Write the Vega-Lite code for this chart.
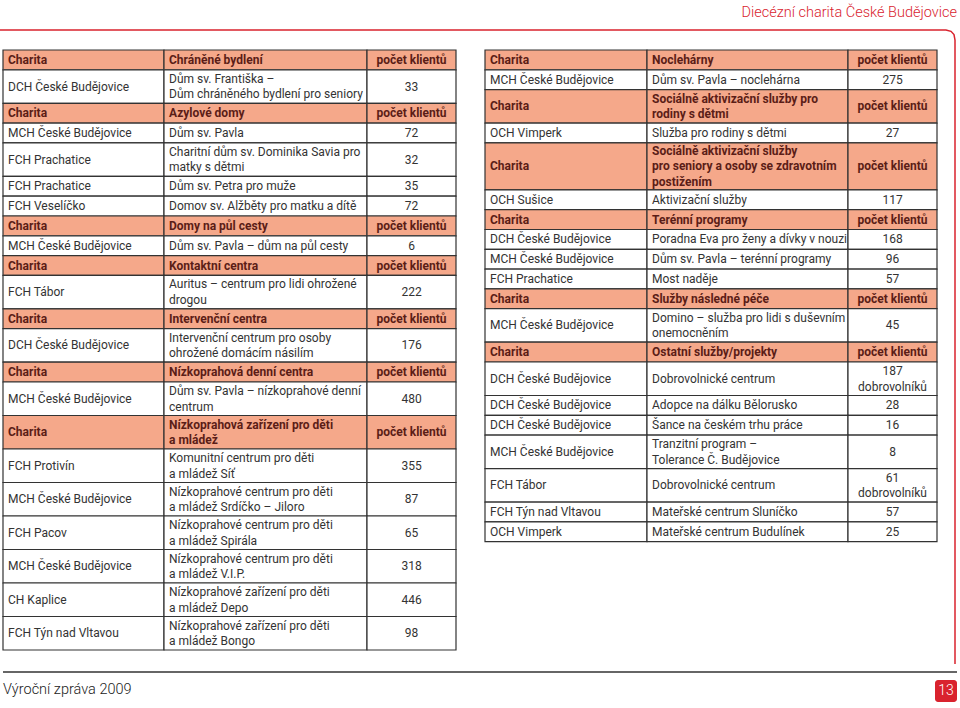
{
  "$schema": "https://vega.github.io/schema/vega-lite/v6.json",
  "width": 960,
  "height": 708,
  "autosize": "none",
  "padding": 0,
  "background": "white",
  "config": {"view": {"stroke": null}, "text": {"font": "Roboto"}},
  "datasets": {
    "rows": [
      {"t": "L", "kind": "h", "a": "Charita", "b": "Chráněné bydlení", "c": "počet klientů"},
      {"t": "L", "kind": "d", "a": "DCH České Budějovice", "b": "Dům sv. Františka –\nDům chráněného bydlení pro seniory", "c": "33"},
      {"t": "L", "kind": "h", "a": "Charita", "b": "Azylové domy", "c": "počet klientů"},
      {"t": "L", "kind": "d", "a": "MCH České Budějovice", "b": "Dům sv. Pavla", "c": "72"},
      {"t": "L", "kind": "d", "a": "FCH Prachatice", "b": "Charitní dům sv. Dominika Savia pro\nmatky s dětmi", "c": "32"},
      {"t": "L", "kind": "d", "a": "FCH Prachatice", "b": "Dům sv. Petra pro muže", "c": "35"},
      {"t": "L", "kind": "d", "a": "FCH Veselíčko", "b": "Domov sv. Alžběty pro matku a dítě", "c": "72"},
      {"t": "L", "kind": "h", "a": "Charita", "b": "Domy na půl cesty", "c": "počet klientů"},
      {"t": "L", "kind": "d", "a": "MCH České Budějovice", "b": "Dům sv. Pavla – dům na půl cesty", "c": "6"},
      {"t": "L", "kind": "h", "a": "Charita", "b": "Kontaktní centra", "c": "počet klientů"},
      {"t": "L", "kind": "d", "a": "FCH Tábor", "b": "Auritus – centrum pro lidi ohrožené\ndrogou", "c": "222"},
      {"t": "L", "kind": "h", "a": "Charita", "b": "Intervenční centra", "c": "počet klientů"},
      {"t": "L", "kind": "d", "a": "DCH České Budějovice", "b": "Intervenční centrum pro osoby\nohrožené domácím násilím", "c": "176"},
      {"t": "L", "kind": "h", "a": "Charita", "b": "Nízkoprahová denní centra", "c": "počet klientů"},
      {"t": "L", "kind": "d", "a": "MCH České Budějovice", "b": "Dům sv. Pavla – nízkoprahové denní\ncentrum", "c": "480"},
      {"t": "L", "kind": "h", "a": "Charita", "b": "Nízkoprahová zařízení pro děti\na mládež", "c": "počet klientů"},
      {"t": "L", "kind": "d", "a": "FCH Protivín", "b": "Komunitní centrum pro děti\na mládež Síť", "c": "355"},
      {"t": "L", "kind": "d", "a": "MCH České Budějovice", "b": "Nízkoprahové centrum pro děti\na mládež Srdíčko – Jiloro", "c": "87"},
      {"t": "L", "kind": "d", "a": "FCH Pacov", "b": "Nízkoprahové centrum pro děti\na mládež Spirála", "c": "65"},
      {"t": "L", "kind": "d", "a": "MCH České Budějovice", "b": "Nízkoprahové centrum pro děti\na mládež V.I.P.", "c": "318"},
      {"t": "L", "kind": "d", "a": "CH Kaplice", "b": "Nízkoprahové zařízení pro děti\na mládež Depo", "c": "446"},
      {"t": "L", "kind": "d", "a": "FCH Týn nad Vltavou", "b": "Nízkoprahové zařízení pro děti\na mládež Bongo", "c": "98"},
      {"t": "R", "kind": "h", "a": "Charita", "b": "Noclehárny", "c": "počet klientů"},
      {"t": "R", "kind": "d", "a": "MCH České Budějovice", "b": "Dům sv. Pavla – noclehárna", "c": "275"},
      {"t": "R", "kind": "h", "a": "Charita", "b": "Sociálně aktivizační služby pro\nrodiny s dětmi", "c": "počet klientů"},
      {"t": "R", "kind": "d", "a": "OCH Vimperk", "b": "Služba pro rodiny s dětmi", "c": "27"},
      {"t": "R", "kind": "h", "a": "Charita", "b": "Sociálně aktivizační služby\npro seniory a osoby se zdravotním\npostižením", "c": "počet klientů"},
      {"t": "R", "kind": "d", "a": "OCH Sušice", "b": "Aktivizační služby", "c": "117"},
      {"t": "R", "kind": "h", "a": "Charita", "b": "Terénní programy", "c": "počet klientů"},
      {"t": "R", "kind": "d", "a": "DCH České Budějovice", "b": "Poradna Eva pro ženy a dívky v nouzi", "c": "168"},
      {"t": "R", "kind": "d", "a": "MCH České Budějovice", "b": "Dům sv. Pavla – terénní programy", "c": "96"},
      {"t": "R", "kind": "d", "a": "FCH Prachatice", "b": "Most naděje", "c": "57"},
      {"t": "R", "kind": "h", "a": "Charita", "b": "Služby následné péče", "c": "počet klientů"},
      {"t": "R", "kind": "d", "a": "MCH České Budějovice", "b": "Domino – služba pro lidi s duševním\nonemocněním", "c": "45"},
      {"t": "R", "kind": "h", "a": "Charita", "b": "Ostatní služby/projekty", "c": "počet klientů"},
      {"t": "R", "kind": "d", "a": "DCH České Budějovice", "b": "Dobrovolnické centrum", "c": "187\ndobrovolníků"},
      {"t": "R", "kind": "d", "a": "DCH České Budějovice", "b": "Adopce na dálku Bělorusko", "c": "28"},
      {"t": "R", "kind": "d", "a": "DCH České Budějovice", "b": "Šance na českém trhu práce", "c": "16"},
      {"t": "R", "kind": "d", "a": "MCH České Budějovice", "b": "Tranzitní program –\nTolerance Č. Budějovice", "c": "8"},
      {"t": "R", "kind": "d", "a": "FCH Tábor", "b": "Dobrovolnické centrum", "c": "61\ndobrovolníků"},
      {"t": "R", "kind": "d", "a": "FCH Týn nad Vltavou", "b": "Mateřské centrum Sluníčko", "c": "57"},
      {"t": "R", "kind": "d", "a": "OCH Vimperk", "b": "Mateřské centrum Budulínek", "c": "25"}
    ],
    "cols": [
      {"key": "La", "x0": 3, "x1": 164},
      {"key": "Lb", "x0": 164, "x1": 367},
      {"key": "Lc", "x0": 367, "x1": 456},
      {"key": "Ra", "x0": 485, "x1": 647},
      {"key": "Rb", "x0": 647, "x1": 848},
      {"key": "Rc", "x0": 848, "x1": 937}
    ]
  },
  "layer": [
    {
      "data": {"name": "rows"},
      "transform": [
        {"calculate": "max(length(split(datum.a,'\\n')), length(split(datum.b,'\\n')), length(split(datum.c,'\\n')))", "as": "lines"},
        {"calculate": "datum.lines == 1 ? 19.8 : datum.lines == 2 ? 33.5 : 47", "as": "h"},
        {"window": [{"op": "sum", "field": "h", "as": "yb"}], "groupby": ["t"]},
        {"calculate": "datum.yb - datum.h", "as": "y0"},
        {"fold": ["a", "b", "c"], "as": ["col", "txt"]},
        {"calculate": "datum.yb - datum.h / 2 - (length(split(datum.txt,'\\n')) - 1) * 7.75", "as": "ty"},
        {"calculate": "datum.t + datum.col", "as": "key"},
        {"lookup": "key", "from": {"data": {"name": "cols"}, "key": "key", "fields": ["x0", "x1"]}},
        {"calculate": "(datum.x0 + datum.x1) / 2", "as": "xm"}
      ],
      "layer": [
        {
          "mark": {"type": "rect", "stroke": "#333333", "strokeWidth": 1.2},
          "encoding": {
            "x": {"field": "x0", "type": "quantitative", "axis": null, "scale": {"domain": [0, 960], "range": [0, 960], "nice": false, "zero": false}},
            "x2": {"field": "x1"},
            "y": {"field": "y0", "type": "quantitative", "axis": null, "scale": {"domain": [-50, 658], "range": [0, 708], "nice": false, "zero": false}},
            "y2": {"field": "yb"},
            "fill": {"field": "kind", "type": "nominal", "legend": null, "scale": {"domain": ["h", "d"], "range": ["#f5a88a", "#ffffff"]}}
          }
        },
        {
          "transform": [{"filter": "datum.kind == 'h' && datum.col != 'c'"}],
          "mark": {"type": "text", "align": "left", "baseline": "middle", "dx": 5, "fontSize": 12, "fontWeight": "bold", "lineBreak": "\n", "lineHeight": 15.5, "color": "#5b1d17"},
          "encoding": {
            "x": {"field": "x0", "type": "quantitative"},
            "y": {"field": "ty", "type": "quantitative"},
            "text": {"field": "txt"}
          }
        },
        {
          "transform": [{"filter": "datum.kind == 'h' && datum.col == 'c'"}],
          "mark": {"type": "text", "align": "center", "baseline": "middle", "fontSize": 12, "fontWeight": "bold", "lineBreak": "\n", "lineHeight": 15.5, "color": "#5b1d17"},
          "encoding": {
            "x": {"field": "xm", "type": "quantitative"},
            "y": {"field": "ty", "type": "quantitative"},
            "text": {"field": "txt"}
          }
        },
        {
          "transform": [{"filter": "datum.kind == 'd' && datum.col != 'c'"}],
          "mark": {"type": "text", "align": "left", "baseline": "middle", "dx": 5, "fontSize": 12, "lineBreak": "\n", "lineHeight": 15.5, "color": "#333333"},
          "encoding": {
            "x": {"field": "x0", "type": "quantitative"},
            "y": {"field": "ty", "type": "quantitative"},
            "text": {"field": "txt"}
          }
        },
        {
          "transform": [{"filter": "datum.kind == 'd' && datum.col == 'c'"}],
          "mark": {"type": "text", "align": "center", "baseline": "middle", "fontSize": 12, "lineBreak": "\n", "lineHeight": 15.5, "color": "#333333"},
          "encoding": {
            "x": {"field": "xm", "type": "quantitative"},
            "y": {"field": "ty", "type": "quantitative"},
            "text": {"field": "txt"}
          }
        }
      ]
    },
    {
      "data": {"values": [
        {"x": -5, "y": -20, "o": 1},
        {"x": 946, "y": -20, "o": 2},
        {"x": 951, "y": -18.7, "o": 3},
        {"x": 954, "y": -15.5, "o": 4},
        {"x": 955, "y": -10, "o": 5},
        {"x": 955, "y": 614, "o": 6}
      ]},
      "mark": {"type": "line", "color": "#d9232e", "strokeWidth": 1.5},
      "encoding": {
        "x": {"field": "x", "type": "quantitative"},
        "y": {"field": "y", "type": "quantitative"},
        "order": {"field": "o", "type": "quantitative"}
      }
    },
    {
      "data": {"values": [{"x": 3, "x2": 957, "y": 622}]},
      "mark": {"type": "rule", "color": "#333333", "strokeWidth": 1.5},
      "encoding": {
        "x": {"field": "x", "type": "quantitative"},
        "x2": {"field": "x2"},
        "y": {"field": "y", "type": "quantitative"}
      }
    },
    {
      "data": {"values": [{"x": 935, "x2": 957, "y": 630, "y2": 652}]},
      "mark": {"type": "rect", "color": "#d9232e", "cornerRadius": 3},
      "encoding": {
        "x": {"field": "x", "type": "quantitative"},
        "x2": {"field": "x2"},
        "y": {"field": "y", "type": "quantitative"},
        "y2": {"field": "y2"}
      }
    },
    {
      "data": {"values": [{"label": "13", "x": 946, "y": 641}]},
      "mark": {"type": "text", "align": "center", "baseline": "middle", "fontSize": 14, "fontWeight": 300, "color": "#ffffff"},
      "encoding": {
        "x": {"field": "x", "type": "quantitative"},
        "y": {"field": "y", "type": "quantitative"},
        "text": {"field": "label"}
      }
    },
    {
      "data": {"values": [{"label": "Výroční zpráva 2009", "x": 3, "y": 640}]},
      "mark": {"type": "text", "align": "left", "baseline": "middle", "fontSize": 14.5, "fontWeight": 300, "color": "#222222"},
      "encoding": {
        "x": {"field": "x", "type": "quantitative"},
        "y": {"field": "y", "type": "quantitative"},
        "text": {"field": "label"}
      }
    },
    {
      "data": {"values": [{"label": "Diecézní charita České Budějovice", "x": 957, "y": -37}]},
      "mark": {"type": "text", "align": "right", "baseline": "middle", "fontSize": 14.5, "fontWeight": 300, "color": "#d9232e"},
      "encoding": {
        "x": {"field": "x", "type": "quantitative"},
        "y": {"field": "y", "type": "quantitative"},
        "text": {"field": "label"}
      }
    }
  ]
}
